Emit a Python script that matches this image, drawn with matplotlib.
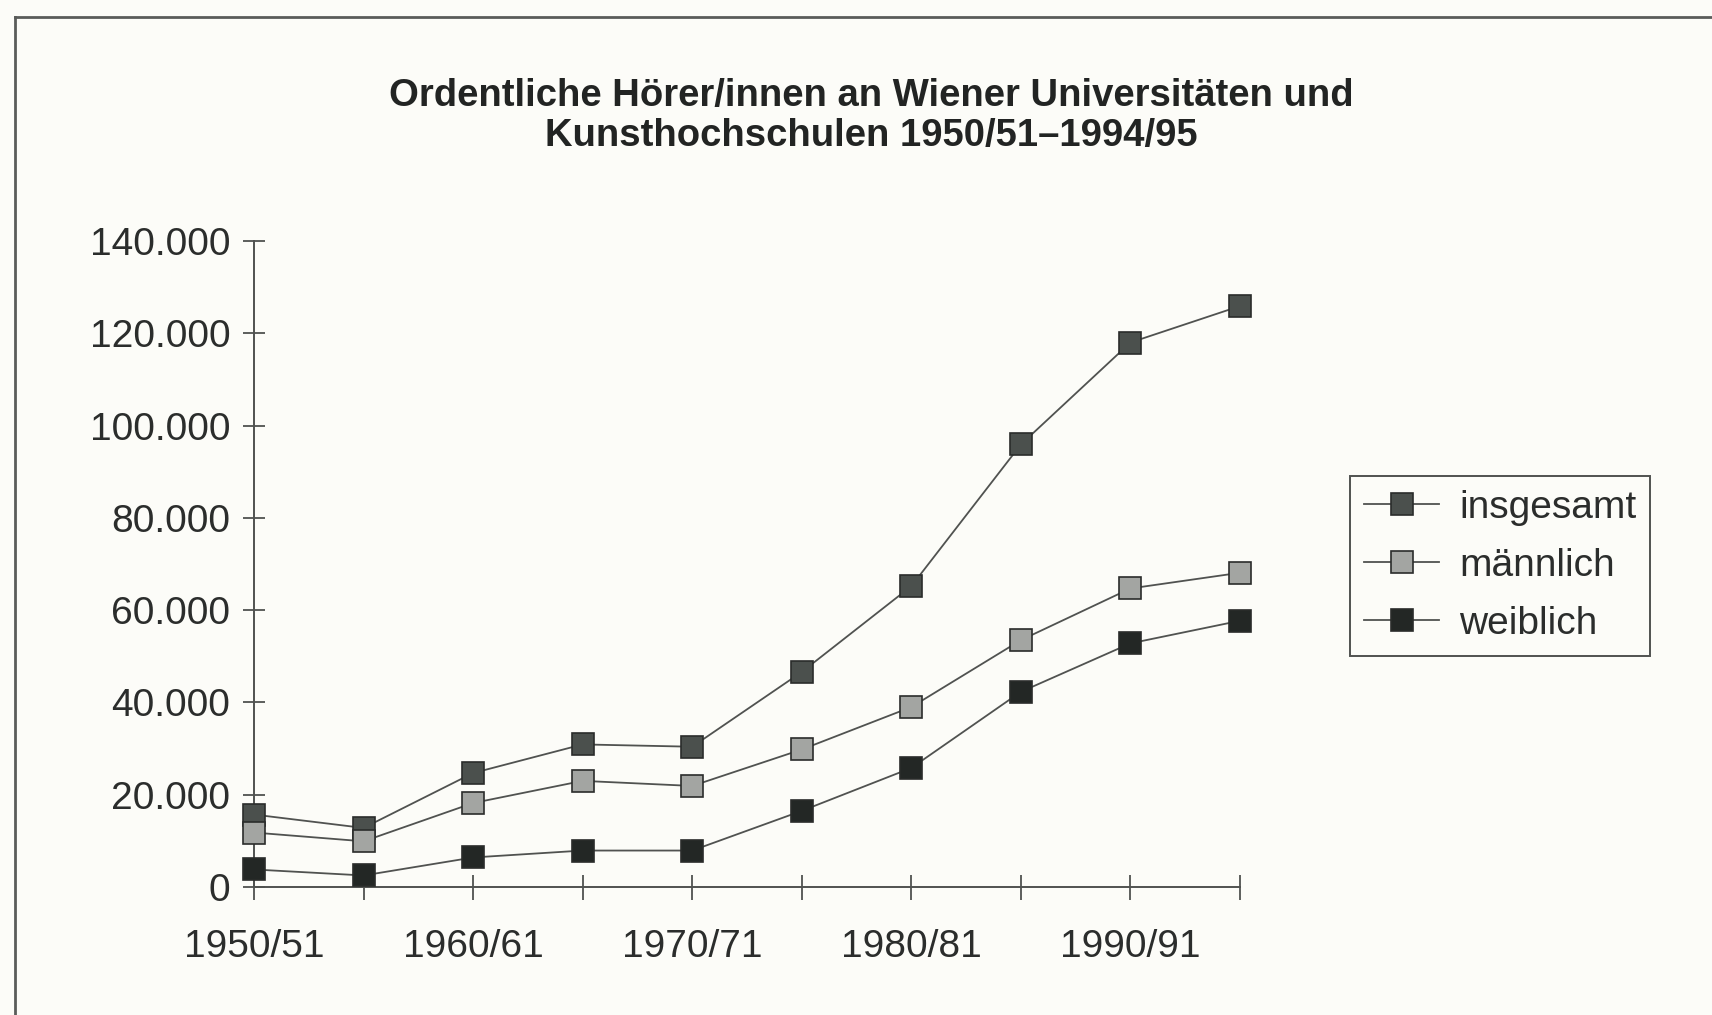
import matplotlib
matplotlib.use('Agg')
import matplotlib.pyplot as plt
from matplotlib.lines import Line2D
from matplotlib.ticker import FuncFormatter, FixedLocator

plt.rcParams['font.family'] = ['Liberation Sans', 'DejaVu Sans']

JAHRE = ['1950/51', '1955/56', '1960/61', '1965/66', '1970/71',
         '1975/76', '1980/81', '1985/86', '1990/91', '1994/95']
INSGESAMT = [15700, 12800, 24700, 30900, 30400, 46600, 65200, 95900, 118000, 125900]
MAENNLICH = [11800, 9900, 18200, 23000, 21900, 29800, 39000, 53500, 64700, 68100]
WEIBLICH = [3800, 2500, 6400, 7900, 7900, 16500, 25800, 42300, 52800, 57700]

SERIEN = [
    ('insgesamt', INSGESAMT, '#4b504d'),
    ('männlich', MAENNLICH, '#a3a5a2'),
    ('weiblich', WEIBLICH, '#232725'),
]

_TXT = '#2b2d2c'
_LINIE = '#505250'
_BG = '#fcfcf8'

fig = plt.figure(figsize=(17.12, 10.15), dpi=100, facecolor=_BG)
ax = fig.add_axes([254 / 1712, 1 - 887 / 1015, (1240 - 254) / 1712, (887 - 241) / 1015])
ax.set_facecolor(_BG)

x = list(range(len(JAHRE)))
for name, werte, farbe in SERIEN:
    ax.plot(x, werte, color=_LINIE, linewidth=1.3, marker='s', markersize=16,
            markerfacecolor=farbe, markeredgecolor='#2a2c2b', markeredgewidth=1.2,
            label=name, clip_on=False, zorder=3)

ax.set_xlim(0, len(JAHRE) - 1)
ax.set_ylim(0, 140000)
ax.yaxis.set_major_locator(FixedLocator(range(0, 140001, 20000)))
ax.yaxis.set_major_formatter(FuncFormatter(lambda v, p: f'{v:,.0f}'.replace(',', '.')))
ax.set_xticks(x)
ax.set_xticklabels([j if i % 2 == 0 else '' for i, j in enumerate(JAHRE)])

for s in ('top', 'right'):
    ax.spines[s].set_visible(False)
for s in ('left', 'bottom'):
    ax.spines[s].set_color(_LINIE)
    ax.spines[s].set_linewidth(1.4)

ax.tick_params(axis='y', direction='inout', length=16, width=1.3, color=_LINIE,
               labelsize=28, labelcolor=_TXT, pad=9)
ax.tick_params(axis='x', direction='inout', length=18, width=1.3, color=_LINIE,
               labelsize=28, labelcolor=_TXT, pad=21)

leg = ax.legend(loc='upper left', bbox_to_anchor=(1350 / 1712, 1 - 476 / 1015),
                bbox_transform=fig.transFigure, fontsize=28, frameon=True,
                fancybox=False, handlelength=1.95, handletextpad=0.5,
                labelspacing=0.57, borderpad=0.35, borderaxespad=0,
                labelcolor=_TXT)
leg.get_frame().set_edgecolor(_LINIE)
leg.get_frame().set_linewidth(1.4)
leg.get_frame().set_facecolor(_BG)
leg.get_frame().set_alpha(1)

fig.text(0.509, 0.886, 'Ordentliche Hörer/innen an Wiener Universitäten und\n'
         'Kunsthochschulen 1950/51–1994/95',
         ha='center', va='center', fontsize=27.5, fontweight='bold',
         color='#222423', linespacing=1.15)

# Rahmen links und oben
fig.add_artist(Line2D([15 / 1712, 15 / 1712], [0, 1 - 17 / 1015],
                      transform=fig.transFigure, color='#5a5c5a', linewidth=2))
fig.add_artist(Line2D([15 / 1712, 1], [1 - 17 / 1015, 1 - 17 / 1015],
                      transform=fig.transFigure, color='#5a5c5a', linewidth=2))

fig.savefig('out.png', dpi=100, facecolor=_BG)
